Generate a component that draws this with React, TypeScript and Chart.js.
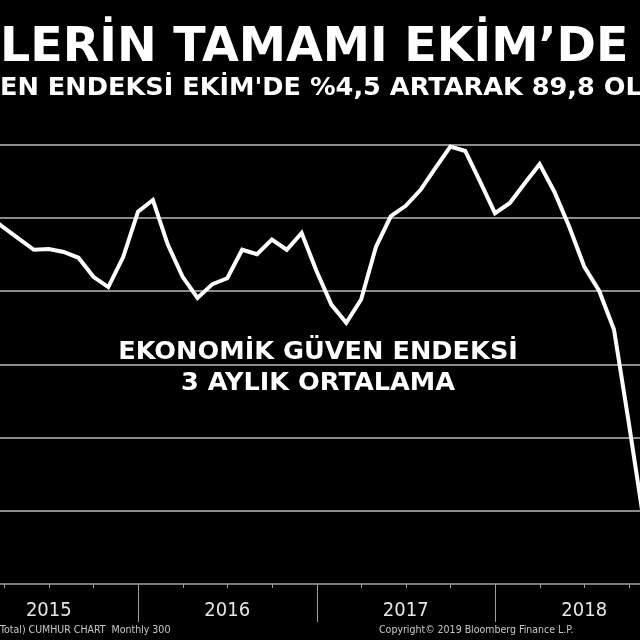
import { useEffect, useRef } from 'react';
import { Chart, registerables } from 'chart.js';

Chart.register(...registerables);

// ---- text ----
const titleLine = 'LERİN TAMAMI EKİM’DE';
const subtitleLine = "EN ENDEKSİ EKİM'DE %4,5 ARTARAK 89,8 OL";
const noteLines = ['EKONOMİK GÜVEN ENDEKSİ', '3 AYLIK ORTALAMA'];
const footerLeft = 'Total) CUMHUR CHART  Monthly 300';
const footerRight = 'Copyright© 2019 Bloomberg Finance L.P.';

// ---- axis ----
const yearLabels = ['2015', '2016', '2017', '2018'];
const yearStartMonths = [0, 12, 24, 36]; // months from Jan 2015
const gridValues = [80, 85, 90, 95, 100, 105];

// ---- data: economic confidence index, 3-month average (monthly, Feb 2015 .. Oct 2018) ----
const firstMonth = 2; // plotted at end of month (Feb 2015 -> month 2)
const values = [
  100.1, 99.35, 98.6, 97.85, 97.9, 97.7, 97.3, 96.0, 95.3, 97.35, 100.45,
  101.25, 98.2, 96.0, 94.55, 95.5, 95.9, 97.85, 97.55, 98.55, 97.85,
  99.0, 96.4, 94.1, 92.85, 94.45, 98.05, 100.15, 100.85, 101.95, 103.45,
  104.9, 104.6, 102.5, 100.35, 101.05, 102.4, 103.7, 101.8, 99.4, 96.7,
  95.05, 92.4, 86.0, 79.3,
];

const decorPlugin = {
  id: 'decor',
  beforeDraw(chart: any) {
    const { ctx, width, height } = chart;
    ctx.save();
    ctx.fillStyle = '#000000';
    ctx.fillRect(0, 0, width, height);
    ctx.restore();
  },
  afterDraw(chart: any) {
    const { ctx, chartArea, width } = chart;
    const xs = chart.scales.x;
    const bottom = chartArea.bottom;
    ctx.save();
    // axis line
    ctx.strokeStyle = '#a0a0a0';
    ctx.lineWidth = 1.5;
    ctx.beginPath();
    ctx.moveTo(0, bottom);
    ctx.lineTo(width, bottom);
    ctx.stroke();
    // quarter ticks and year separators
    ctx.lineWidth = 1;
    for (let m = Math.ceil(xs.min); m <= Math.floor(xs.max); m++) {
      if (m % 3 !== 0) continue;
      const px = Math.round(xs.getPixelForValue(m)) + 0.5;
      ctx.beginPath();
      ctx.moveTo(px, bottom);
      ctx.lineTo(px, bottom + (m % 12 === 0 ? 38 : 4));
      ctx.stroke();
    }
    // year labels
    ctx.fillStyle = '#e6e6e6';
    ctx.font = '20px "Liberation Sans Narrow", "DejaVu Sans Condensed", sans-serif';
    ctx.textAlign = 'center';
    ctx.textBaseline = 'alphabetic';
    yearLabels.forEach((lab, k) => {
      ctx.fillText(lab, xs.getPixelForValue(yearStartMonths[k] + 6), bottom + 32);
    });
    // footers
    ctx.fillStyle = '#c8c8c8';
    ctx.font = '10.5px "Liberation Sans Narrow", "DejaVu Sans Condensed", sans-serif';
    ctx.textAlign = 'left';
    ctx.fillText(footerLeft, 0, bottom + 49);
    ctx.fillText(footerRight, 379, bottom + 49);
    // titles
    ctx.fillStyle = '#ffffff';
    ctx.font = 'bold 47.5px "DejaVu Sans", Verdana, sans-serif';
    ctx.fillText(titleLine, 0, 61);
    ctx.font = 'bold 25.6px "DejaVu Sans", Verdana, sans-serif';
    ctx.fillText(subtitleLine, 0, 95);
    // note
    ctx.textAlign = 'center';
    ctx.font = 'bold 25.6px "DejaVu Sans", Verdana, sans-serif';
    ctx.fillText(noteLines[0], 318, 359);
    ctx.fillText(noteLines[1], 318, 390);
    ctx.restore();
  },
};

export default function App() {
  const ref = useRef<HTMLCanvasElement | null>(null);
  useEffect(() => {
    document.body.style.margin = '0';
    document.body.style.background = '#000';
    const canvas = ref.current;
    if (!canvas) return;
    const chart = new Chart(canvas, {
      type: 'line',
      data: {
        datasets: [
          {
            data: values.map((v, i) => ({ x: firstMonth + i, y: v })),
            borderColor: '#ffffff',
            borderWidth: 4,
            pointRadius: 0,
            tension: 0,
            fill: false,
          },
        ],
      },
      options: {
        animation: false,
        responsive: false,
        devicePixelRatio: 1,
        layout: { padding: { top: 72, bottom: 56, left: 0, right: 0 } },
        plugins: { legend: { display: false }, tooltip: { enabled: false }, title: { display: false } },
        scales: {
          x: {
            type: 'linear',
            display: false,
            min: 2.72,
            max: 45.75,
          },
          y: {
            type: 'linear',
            display: true,
            min: 75,
            max: 110,
            afterBuildTicks: (scale: any) => {
              scale.ticks = gridValues.map((v) => ({ value: v }));
            },
            ticks: { display: false },
            border: { display: false },
            grid: { color: '#8c8c8c', lineWidth: 2, drawTicks: false },
          },
        },
      },
      plugins: [decorPlugin],
    });
    return () => chart.destroy();
  }, []);
  return <canvas ref={ref} width={640} height={640} style={{ display: 'block' }} />;
}
